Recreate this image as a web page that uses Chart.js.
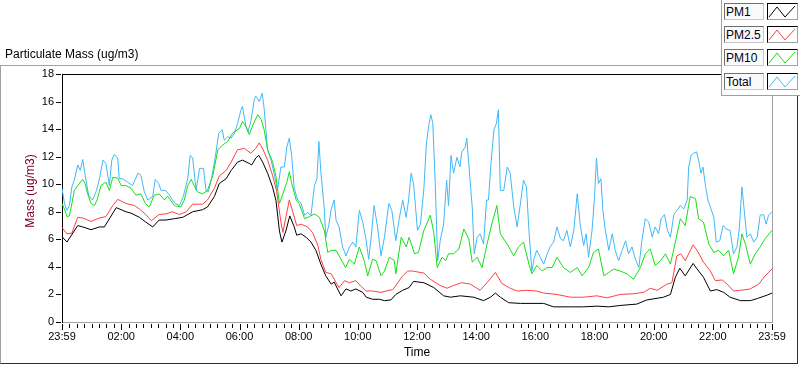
<!DOCTYPE html>
<html><head><meta charset="utf-8">
<script src="https://cdn.jsdelivr.net/npm/chart.js@4"></script>
<style>
html,body{margin:0;padding:0;background:#fff;width:800px;height:365px;overflow:hidden;font-family:"Liberation Sans",Arial,sans-serif;}
#wrap{position:relative;width:800px;height:365px;}
#frame{position:absolute;left:0;top:65px;width:796px;height:297px;border-left:1px solid #a0a0a0;border-top:1px solid #a0a0a0;border-right:1px solid #303030;border-bottom:1px solid #303030;}
canvas{position:absolute;left:0;top:0;}
#title{position:absolute;left:5px;top:47px;font-size:12px;line-height:14px;color:#000;white-space:nowrap;}
#legend{position:absolute;left:721px;top:0;width:78px;height:95px;background:#fff;border-left:1px solid #a0a0a0;border-bottom:1px solid #a0a0a0;}
.lab{position:absolute;left:2px;width:37px;height:15px;border:1px solid;border-color:#707070 #c8c8c8 #c8c8c8 #707070;background:#fafafa;font-size:12px;line-height:16px;padding-left:1px;color:#000020;white-space:nowrap;}
.sw{position:absolute;left:45px;width:29px;height:15px;border:1px solid;border-color:#000 #a0a0a0 #a0a0a0 #000;background:#fff;}
.sw svg{position:absolute;left:0;top:0;}
</style>
</head><body>
<div id="wrap">
  <div id="frame"></div>
  <canvas id="c" width="800" height="365"></canvas>
  <div id="title">Particulate Mass (ug/m3)</div>
  <div id="legend"></div>
</div>
<script>
// ---- data (time in minutes after 23:59, mass in ug/m3) ----
const seriesNames = ['PM1', 'PM2.5', 'PM10', 'Total'];
const seriesColors = ['#000000', '#ff4040', '#14e014', '#40b8f8'];

const pm1Time = [0,10,32,42,59,76,86,110,130,140,157,170,184,197,211,228,245,265,285,295,309,319,333,343,356,366,380,385,393,399,407,417,427,434,441,446,454,462,471,476,485,495,505,515,525,535,546,552,561,566,576,586,596,610,617,630,644,654,667,677,691,704,713,734,754,774,788,808,835,855,869,879,889,906,930,977,997,1031,1058,1085,1109,1132,1166,1186,1220,1234,1244,1253,1264,1280,1288,1301,1315,1328,1342,1355,1376,1396,1410,1430,1440];
const pm1Mass = [6.2,5.8,7.0,6.9,6.7,6.9,6.9,8.3,8.0,7.9,7.6,7.25,6.9,7.4,7.4,7.5,7.6,8.0,8.15,8.35,9.1,10.05,10.4,11.0,11.6,11.75,11.5,11.4,11.9,12.1,11.6,10.8,9.8,8.8,6.6,5.8,6.6,7.7,6.9,6.3,6.4,6.15,5.8,5.2,4.2,3.35,2.75,2.9,2.25,1.9,2.4,2.25,2.4,2.15,1.8,1.65,1.65,1.55,1.6,2.0,2.3,2.5,2.95,2.85,2.5,1.9,1.8,1.9,1.8,1.55,1.8,2.1,1.8,1.4,1.35,1.35,1.1,1.1,1.1,1.15,1.1,1.2,1.3,1.6,1.8,2.0,3.25,3.9,3.35,4.25,3.85,3.25,2.25,2.35,2.15,1.8,1.55,1.55,1.7,1.95,2.1];

const pm25Time = [0,10,20,32,42,59,76,89,103,113,130,147,157,170,181,197,211,224,238,252,265,285,295,309,319,333,343,356,370,383,393,400,408,417,427,435,444,448,454,461,468,476,485,498,508,519,525,535,546,556,562,573,583,596,606,617,630,647,657,671,681,691,701,711,734,747,767,781,794,811,828,848,862,879,892,909,923,943,963,977,1004,1031,1058,1085,1105,1132,1159,1180,1193,1207,1227,1237,1247,1255,1264,1280,1288,1301,1315,1325,1339,1349,1362,1376,1396,1413,1426,1440];
const pm25Mass = [6.85,6.4,6.45,7.6,7.55,7.3,7.55,7.65,8.45,8.9,8.6,8.45,8.2,7.8,7.35,7.8,7.85,8.0,7.8,8.0,8.55,8.55,8.85,9.7,10.6,11.0,11.6,12.5,12.6,12.25,12.6,13.0,12.5,11.75,10.65,9.55,7.25,6.5,7.6,8.85,8.0,7.0,7.1,6.9,6.5,5.55,4.55,3.6,3.5,2.85,2.5,3.0,2.85,3.0,2.6,2.25,2.25,2.15,2.25,2.35,2.85,3.35,3.7,3.7,3.55,3.1,2.65,2.45,2.65,2.85,2.75,2.3,2.85,3.6,2.8,2.45,2.25,2.3,2.25,2.1,2.0,1.8,1.8,1.9,1.75,2.0,2.05,2.15,2.45,2.3,2.75,2.85,4.8,4.95,4.45,5.6,5.2,4.35,3.7,3.0,3.05,2.75,2.25,2.3,2.4,2.75,3.35,3.85];

const pm10Time = [0,5,10,15,20,25,32,42,47,52,59,66,72,79,89,96,103,113,120,130,140,150,160,169,177,187,197,208,214,228,241,248,255,262,268,275,285,295,306,316,326,336,346,360,366,373,380,387,397,404,410,417,427,434,441,448,456,461,466,475,481,492,502,512,522,532,539,546,556,566,575,583,593,603,613,620,630,637,647,654,664,674,677,688,698,704,715,723,734,747,754,761,771,778,784,794,805,815,825,832,842,852,862,872,882,889,903,916,926,936,947,953,963,974,984,994,1004,1017,1031,1045,1055,1068,1078,1088,1099,1109,1119,1132,1146,1159,1173,1183,1193,1203,1214,1224,1234,1244,1254,1264,1274,1285,1291,1301,1312,1322,1332,1342,1352,1362,1372,1379,1386,1396,1406,1416,1426,1440];
const pm10Mass = [8.6,8.2,7.65,7.7,8.6,9.55,9.9,10.35,10.05,9.3,8.6,8.45,8.95,9.9,10.15,9.55,10.5,10.45,9.9,9.9,9.7,9.2,9.3,8.6,8.35,9.2,9.3,8.85,9.15,8.45,8.35,8.85,9.9,10.35,9.9,9.45,9.3,9.55,10.65,12.5,12.85,13.1,13.7,14.05,14.55,14.2,13.6,14.3,15.05,14.7,13.95,12.5,11.65,10.55,8.6,9.3,10.15,10.9,10.05,8.85,8.6,7.5,7.65,7.85,7.6,6.65,5.05,5.2,5.2,4.55,3.95,4.55,4.2,5.45,4.45,3.35,4.55,4.45,3.35,3.7,4.7,4.45,3.5,6.15,5.45,6.15,4.95,5.05,6.65,7.75,6.5,3.95,4.7,4.45,4.95,4.95,5.3,6.75,6.05,4.35,4.7,3.95,5.65,7.15,8.45,6.4,5.65,4.8,5.45,5.8,4.2,3.5,4.1,3.7,3.95,3.95,4.7,3.95,3.6,3.95,3.35,3.95,5.05,5.3,3.35,3.6,3.85,3.7,3.5,3.1,3.95,4.95,5.3,4.1,4.45,4.95,4.2,5.8,7.5,7.0,9.1,8.95,7.5,7.25,5.65,5.05,5.2,4.8,5.2,3.5,4.7,6.4,5.65,4.2,4.95,5.45,6.05,6.65];

const totalTime = [0,5,10,15,20,25,32,37,42,47,54,62,70,76,83,89,96,101,106,113,116,123,133,143,154,160,167,174,184,189,196,201,210,218,228,238,246,255,260,265,272,279,287,292,297,304,311,318,325,329,336,343,350,356,363,366,373,377,383,390,393,400,406,410,417,424,431,437,444,451,456,461,466,471,478,485,492,498,505,512,517,521,525,532,535,541,546,552,556,562,569,576,583,590,596,603,610,617,622,627,633,640,647,654,663,669,677,684,691,698,703,708,713,721,727,734,739,744,748,752,757,762,767,774,780,784,789,794,801,807,811,818,821,827,832,836,842,848,855,861,865,870,876,881,885,889,896,903,909,916,923,930,936,942,947,953,958,963,970,977,984,990,997,1004,1011,1017,1024,1031,1038,1045,1051,1058,1063,1068,1075,1080,1084,1088,1093,1097,1102,1109,1116,1122,1129,1136,1143,1149,1156,1163,1170,1176,1183,1190,1197,1203,1210,1215,1222,1228,1234,1241,1247,1254,1261,1268,1271,1276,1281,1287,1291,1296,1300,1305,1310,1315,1322,1327,1334,1341,1347,1355,1362,1369,1374,1379,1383,1389,1396,1403,1410,1416,1423,1428,1433,1440];
const totalMass = [9.7,8.6,8.1,8.45,9.8,10.3,11.4,11.0,11.8,10.65,9.2,8.85,9.55,10.4,11.75,11.5,9.9,11.75,12.15,11.9,10.4,10.4,10.15,9.9,10.8,10.65,9.45,8.85,9.1,10.35,10.05,9.55,9.55,9.2,8.65,8.45,9.1,10.4,12.1,11.9,9.55,11.15,11.15,9.55,9.45,10.55,12.0,13.7,13.95,13.2,13.45,13.35,13.7,14.4,15.4,15.65,14.2,13.8,14.55,16.15,16.4,16.0,16.6,15.5,12.5,11.75,10.65,9.55,11.25,11.25,12.7,13.35,12.0,9.7,8.85,8.6,7.75,7.95,7.75,9.9,10.4,13.1,10.9,8.2,6.15,7.0,8.2,8.85,7.35,6.9,5.45,4.8,5.45,5.8,5.45,8.1,7.25,5.9,4.55,6.15,8.45,6.9,4.8,6.15,8.6,8.1,5.9,7.5,8.85,7.6,8.85,10.8,10.05,6.65,7.1,9.7,12.95,14.3,15.05,14.45,10.05,4.45,5.9,7.1,10.3,8.45,12.1,10.8,11.95,11.25,12.35,12.7,13.35,10.55,8.35,4.95,6.15,6.4,5.65,8.85,8.85,11.5,13.95,14.4,15.4,9.55,9.55,11.25,10.8,8.45,6.9,8.65,10.3,9.8,6.65,3.7,4.7,5.2,4.7,4.2,4.95,5.45,5.8,6.9,6.05,5.9,6.65,5.45,6.65,9.3,7.1,5.55,6.4,4.7,6.65,9.05,11.9,10.05,10.4,8.1,6.65,5.2,6.4,5.2,4.45,5.2,5.9,4.95,5.45,4.55,3.95,5.9,7.5,7.25,6.15,6.9,6.4,7.5,7.8,6.65,6.15,7.8,8.1,8.45,8.2,8.85,11.25,12.1,12.25,12.35,11.75,10.8,11.25,9.9,8.85,8.35,7.6,5.8,5.9,7.0,6.75,6.65,4.95,5.45,6.9,9.8,8.35,6.15,6.4,5.8,6.15,7.75,7.8,7.1,7.75,8.0];

const yTicks = [0,2,4,6,8,10,12,14,16,18];
const xTickValues = [0,120,240,360,480,600,720,840,960,1080,1200,1320,1440];
const xTickLabels = ['23:59','02:00','04:00','06:00','08:00','10:00','12:00','14:00','16:00','18:00','20:00','22:00','23:59'];
const xMinorStep = 15;

// ---- legend (HTML) ----
const legend = document.getElementById('legend');
seriesNames.forEach((n, i) => {
  const top = [3, 26, 49, 73][i];
  const lab = document.createElement('div');
  lab.className = 'lab'; lab.style.top = top + 'px'; lab.textContent = n;
  legend.appendChild(lab);
  const sw = document.createElement('div');
  sw.className = 'sw'; sw.style.top = top + 'px';
  sw.innerHTML = '<svg width="29" height="15"><polyline points="1,13 9,3 17,13 27,2" fill="none" stroke="' + seriesColors[i] + '" stroke-width="1"/></svg>';
  legend.appendChild(sw);
});

// ---- chart ----
Chart.defaults.font.family = '"Liberation Sans", Arial, sans-serif';
const mk = (t, v) => t.map((x, i) => ({x: x, y: v[i]}));
const seriesData = [mk(pm1Time, pm1Mass), mk(pm25Time, pm25Mass), mk(pm10Time, pm10Mass), mk(totalTime, totalMass)];

const decor = {
  id: 'decor',
  afterDraw(chart) {
    const {ctx, chartArea: {left, right, top, bottom}, scales: {x, y}} = chart;
    ctx.save();
    ctx.lineWidth = 1;
    ctx.strokeStyle = '#000';
    ctx.beginPath(); ctx.moveTo(left, top + 0.5); ctx.lineTo(right, top + 0.5); ctx.stroke();
    ctx.strokeStyle = '#a0a0a0';
    ctx.beginPath(); ctx.moveTo(Math.round(right) + 0.5, top); ctx.lineTo(Math.round(right) + 0.5, bottom); ctx.stroke();
    ctx.strokeStyle = '#000';
    for (let m = 0; m <= 1440; m += xMinorStep) {
      const px = Math.round(x.getPixelForValue(m)) + 0.5;
      const major = xTickValues.includes(m);
      ctx.beginPath(); ctx.moveTo(px, bottom + 2); ctx.lineTo(px, bottom + (major ? 8 : 6)); ctx.stroke();
    }
    yTicks.forEach(v => {
      const py = Math.round(y.getPixelForValue(v)) + 0.5;
      ctx.beginPath(); ctx.moveTo(left - 6, py); ctx.lineTo(left - 1, py); ctx.stroke();
    });
    ctx.fillStyle = '#800020';
    ctx.font = '12px "Liberation Sans", Arial, sans-serif';
    ctx.translate(31, 191);
    ctx.rotate(-Math.PI / 2);
    ctx.textAlign = 'center'; ctx.textBaseline = 'middle';
    ctx.fillText('Mass (ug/m3)', 0, 0);
    ctx.restore();
  }
};

new Chart(document.getElementById('c'), {
  type: 'line',
  data: {
    datasets: seriesNames.map((n, i) => ({
      label: n, data: seriesData[i], borderColor: seriesColors[i], backgroundColor: seriesColors[i],
      borderWidth: 1, pointRadius: 0, tension: 0, fill: false
    }))
  },
  options: {
    responsive: false, animation: false, devicePixelRatio: 1,
    layout: {padding: {left: 0, top: 74, right: 28, bottom: 0}},
    plugins: {legend: {display: false}, tooltip: {enabled: false}},
    scales: {
      x: {
        type: 'linear', min: 0, max: 1440,
        afterBuildTicks: s => { s.ticks = xTickValues.map(v => ({value: v})); },
        afterFit: s => { s.height = 43; },
        grid: {display: true, drawOnChartArea: false, drawTicks: false},
        border: {display: true, color: '#a0a0a0', width: 1},
        ticks: {autoSkip: false, maxRotation: 0, padding: 8, color: '#000', font: {size: 11},
          callback: (v, i) => xTickLabels[i]},
        title: {display: true, text: 'Time', color: '#000', font: {size: 12}, padding: {top: 0, bottom: 5}}
      },
      y: {
        type: 'linear', min: 0, max: 18,
        afterBuildTicks: s => { s.ticks = yTicks.map(v => ({value: v})); },
        afterFit: s => { s.width = 62; },
        grid: {display: true, drawOnChartArea: false, drawTicks: false},
        border: {display: true, color: '#000', width: 1},
        ticks: {padding: 8, color: '#000', font: {size: 11}}
      }
    }
  },
  plugins: [decor]
});
</script>
</body></html>
